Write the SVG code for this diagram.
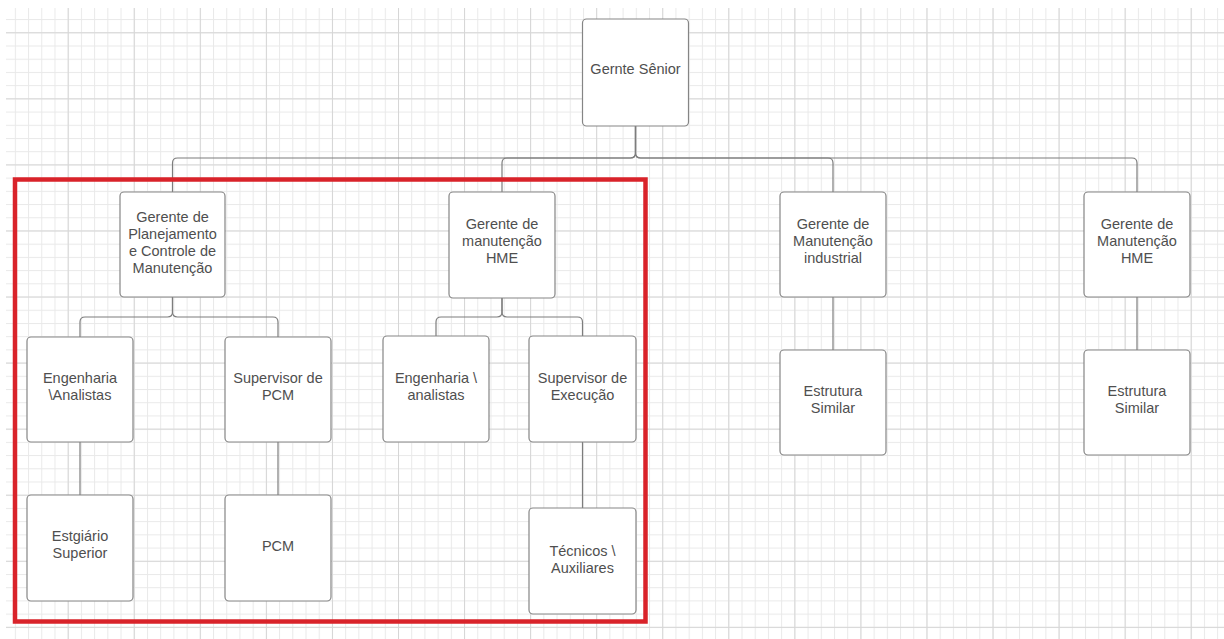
<svg xmlns="http://www.w3.org/2000/svg" width="1224" height="639" viewBox="0 0 1224 639">
  <defs>
    <pattern id="gMinor" patternUnits="userSpaceOnUse" x="1.64" y="32.3" width="13.212" height="13.212">
      <rect x="0" y="0" width="1" height="13.212" fill="#e9e9e9"/>
      <rect x="0" y="0" width="13.212" height="1" fill="#e9e9e9"/>
    </pattern>
    <pattern id="gMajor" patternUnits="userSpaceOnUse" x="1.64" y="32.3" width="66.06" height="66.06">
      <rect x="0" y="0" width="1" height="66.06" fill="#d6d6d6"/>
      <rect x="0" y="0" width="66.06" height="1" fill="#d6d6d6"/>
    </pattern>
    <style>
      .box { fill: #ffffff; stroke: #858585; stroke-width: 1.2; }
      .lbl { font-family: "Liberation Sans", Arial, sans-serif; font-size: 14.5px; fill: #4f4f4f; text-anchor: middle; }
      .con { fill: none; stroke: #7d7d7d; stroke-width: 1.2; }
      .frame { fill: none; stroke: #d9232a; stroke-width: 4.5; }
    </style>
  </defs>
  <rect x="0" y="0" width="1224" height="639" fill="#ffffff"/>
  <rect x="6" y="8" width="1218" height="631" fill="url(#gMinor)"/>
  <rect x="6" y="8" width="1218" height="631" fill="url(#gMajor)"/>

  <g id="connectors">
    <path class="con" d="M635.5,126 V153 Q635.5,158 630.5,158 H177.5 Q172.5,158 172.5,163 V192"/>
    <path class="con" d="M635.5,126 V153 Q635.5,158 630.5,158 H507 Q502,158 502,163 V192"/>
    <path class="con" d="M635.5,126 V153 Q635.5,158 640.5,158 H828 Q833,158 833,163 V192"/>
    <path class="con" d="M635.5,126 V153 Q635.5,158 640.5,158 H1132 Q1137,158 1137,163 V192"/>
    <path class="con" d="M172.5,297 V312 Q172.5,317 167.5,317 H85 Q80,317 80,322 V337"/>
    <path class="con" d="M172.5,297 V312 Q172.5,317 177.5,317 H273 Q278,317 278,322 V337"/>
    <path class="con" d="M502,298 V312 Q502,317 497,317 H441 Q436,317 436,322 V336"/>
    <path class="con" d="M502,298 V312 Q502,317 507,317 H577.5 Q582.5,317 582.5,322 V336"/>
    <path class="con" d="M80,442 V495"/>
    <path class="con" d="M278,442 V495"/>
    <path class="con" d="M582.5,442 V508"/>
    <path class="con" d="M833,297 V350"/>
    <path class="con" d="M1137,297 V350"/>
  </g>

  <g id="n-senior">
    <rect class="box" x="582.5" y="19" width="106" height="107" rx="4"/>
    <text class="lbl" x="635.5" y="74">Gernte Sênior</text>
  </g>
  <g id="n-planejamento">
    <rect class="box" x="120" y="192" width="105" height="105" rx="4"/>
    <text class="lbl" x="172.5" y="222">Gerente de</text>
    <text class="lbl" x="172.5" y="239">Planejamento</text>
    <text class="lbl" x="172.5" y="256">e Controle de</text>
    <text class="lbl" x="172.5" y="273">Manutenção</text>
  </g>
  <g id="n-hme-mid">
    <rect class="box" x="449" y="192" width="106" height="106" rx="4"/>
    <text class="lbl" x="502" y="229">Gerente de</text>
    <text class="lbl" x="502" y="246">manutenção</text>
    <text class="lbl" x="502" y="263">HME</text>
  </g>
  <g id="n-industrial">
    <rect class="box" x="780" y="192" width="106" height="105" rx="4"/>
    <text class="lbl" x="833" y="229">Gerente de</text>
    <text class="lbl" x="833" y="246">Manutenção</text>
    <text class="lbl" x="833" y="263">industrial</text>
  </g>
  <g id="n-hme-right">
    <rect class="box" x="1084" y="192" width="106" height="105" rx="4"/>
    <text class="lbl" x="1137" y="229">Gerente de</text>
    <text class="lbl" x="1137" y="246">Manutenção</text>
    <text class="lbl" x="1137" y="263">HME</text>
  </g>
  <g id="n-eng-analistas">
    <rect class="box" x="27" y="337" width="106" height="105" rx="4"/>
    <text class="lbl" x="80" y="383">Engenharia</text>
    <text class="lbl" x="80" y="400">\Analistas</text>
  </g>
  <g id="n-sup-pcm">
    <rect class="box" x="225" y="337" width="106" height="105" rx="4"/>
    <text class="lbl" x="278" y="383">Supervisor de</text>
    <text class="lbl" x="278" y="400">PCM</text>
  </g>
  <g id="n-eng-analistas-2">
    <rect class="box" x="383" y="336" width="106" height="106" rx="4"/>
    <text class="lbl" x="436" y="383">Engenharia \</text>
    <text class="lbl" x="436" y="400">analistas</text>
  </g>
  <g id="n-sup-exec">
    <rect class="box" x="529" y="336" width="107" height="106" rx="4"/>
    <text class="lbl" x="582.5" y="383">Supervisor de</text>
    <text class="lbl" x="582.5" y="400">Execução</text>
  </g>
  <g id="n-estagiario">
    <rect class="box" x="27" y="495" width="106" height="106" rx="4"/>
    <text class="lbl" x="80" y="541">Estgiário</text>
    <text class="lbl" x="80" y="558">Superior</text>
  </g>
  <g id="n-pcm">
    <rect class="box" x="225" y="495" width="106" height="106" rx="4"/>
    <text class="lbl" x="278" y="551">PCM</text>
  </g>
  <g id="n-tecnicos">
    <rect class="box" x="529" y="508" width="107" height="106" rx="4"/>
    <text class="lbl" x="582.5" y="556">Técnicos \</text>
    <text class="lbl" x="582.5" y="573">Auxiliares</text>
  </g>
  <g id="n-similar-1">
    <rect class="box" x="780" y="350" width="106" height="105" rx="4"/>
    <text class="lbl" x="833" y="396">Estrutura</text>
    <text class="lbl" x="833" y="413">Similar</text>
  </g>
  <g id="n-similar-2">
    <rect class="box" x="1084" y="350" width="106" height="105" rx="4"/>
    <text class="lbl" x="1137" y="396">Estrutura</text>
    <text class="lbl" x="1137" y="413">Similar</text>
  </g>

  <rect class="frame" x="15" y="179.5" width="630.5" height="442"/>
</svg>
